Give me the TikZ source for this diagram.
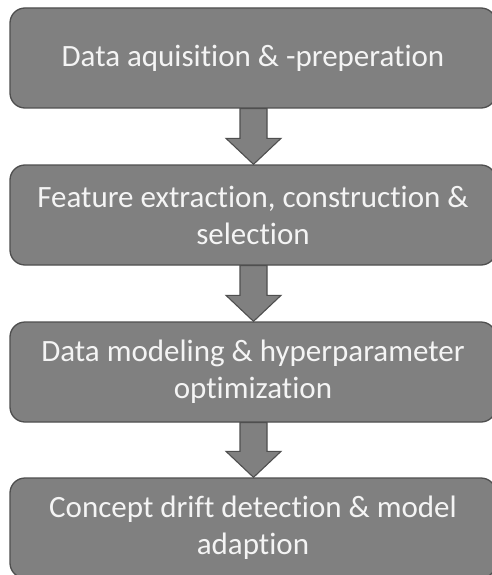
\documentclass[tikz,border=0pt]{standalone}
\usepackage{fontspec}
\setmainfont[Ligatures=NoCommon]{Carlito}
\usetikzlibrary{calc}
\definecolor{boxfill}{HTML}{808080}
\definecolor{boxline}{HTML}{4F4F4F}
\definecolor{boxtext}{HTML}{F4F4F4}
\tikzset{
  stage/.style={rectangle, rounded corners=15pt, draw=boxline, line width=1.3pt,
    fill=boxfill, text=boxtext, minimum width=486pt, minimum height=100pt,
    align=center, inner sep=0pt,
    font=\fontsize{31}{37}\selectfont},
  flowarrow/.style={draw=boxline, line width=1.1pt, fill=boxfill, line join=miter}
}
% block arrow between two stacked stages
\newcommand\blockarrow[2]{%
  \draw[flowarrow] let \p1=($(#1.south)+(0.5pt,0)$), \p2=(#2.north) in
    (\x1-13.5pt,\y1) -- (\x1+13.5pt,\y1) -- (\x1+13.5pt,\y2+26pt)
    -- (\x1+27.5pt,\y2+26pt) -- (\x1,\y2) -- (\x1-27.5pt,\y2+26pt)
    -- (\x1-13.5pt,\y2+26pt) -- cycle;}
\begin{document}
\begin{tikzpicture}[x=1pt,y=-1pt]
  \useasboundingbox (0,0) rectangle (491,575);
  \fill[white] (0,0) rectangle (491,575);
  \node[stage] (s1) at (253,58) {Data aquisition \& -preperation};
  \node[stage] (s2) at (253,215) {Feature extraction, construction \&\\selection};
  \node[stage] (s3) at (253,372) {Data modeling \& hyperparameter\\optimization};
  \node[stage] (s4) at (253,528) {Concept drift detection \& model\\adaption};
  \blockarrow{s1}{s2}
  \blockarrow{s2}{s3}
  \blockarrow{s3}{s4}
\end{tikzpicture}
\end{document}
